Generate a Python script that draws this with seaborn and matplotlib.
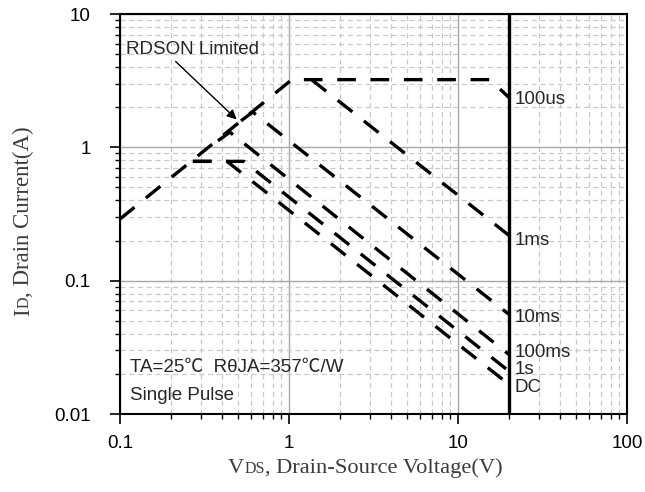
import numpy as np
import pandas as pd
import matplotlib
matplotlib.use('Agg')
import matplotlib.pyplot as plt
import seaborn as sns
from matplotlib.ticker import LogLocator, FuncFormatter, NullFormatter

# Safe operating area curves (corner points)
curve_names = ['100us', '1ms', '10ms', '100ms', '1s', 'DC']
vds_100us = [0.1, 1.04, 15.5, 20]
id_100us = [0.29, 3.22, 3.22, 2.37]
vds_1ms = [1.36, 20]
id_1ms = [3.22, 0.219]
vds_10ms = [0.52, 0.61, 20]
id_10ms = [1.58, 1.84, 0.056]
vds_100ms = [0.38, 0.447, 20]
id_100ms = [1.12, 1.30, 0.028]
vds_1s = [0.27, 0.54, 20]
id_1s = [0.785, 0.785, 0.021]
vds_dc = [0.27, 0.43, 20]
id_dc = [0.785, 0.785, 0.0167]
vds_max = 20

x_ticks = [0.1, 1, 10, 100]
y_ticks = [0.01, 0.1, 1, 10]

frames = []
for name, v, i in zip(curve_names,
                      [vds_100us, vds_1ms, vds_10ms, vds_100ms, vds_1s, vds_dc],
                      [id_100us, id_1ms, id_10ms, id_100ms, id_1s, id_dc]):
    frames.append(pd.DataFrame({'curve': name, 'VDS': v, 'ID': i}))
soa = pd.concat(frames, ignore_index=True)

sns.set_style('white')
plt.rcParams['font.family'] = ['Liberation Sans', 'DejaVu Sans']
fs = 13.5

fig = plt.figure(figsize=(6.45, 4.92), dpi=100)
ax = fig.add_axes([0.186, 0.1585, 0.786, 0.813])
ax.set_xscale('log')
ax.set_yscale('log')
ax.set_xlim(0.1, 100)
ax.set_ylim(0.01, 10)

# grid
ax.xaxis.set_minor_locator(LogLocator(base=10, subs=np.arange(2, 10)))
ax.yaxis.set_minor_locator(LogLocator(base=10, subs=np.arange(2, 10)))
ax.grid(which='major', color='#a8a8a8', lw=1.0, ls='-')
ax.grid(which='minor', color='#c8c8c8', lw=0.9, ls=(0, (4, 3)))
ax.set_axisbelow(True)

for name in curve_names:
    sub = soa[soa['curve'] == name]
    sns.lineplot(data=sub, x='VDS', y='ID', ax=ax, color='black', lw=2.4,
                 linestyle=(0, (5.6, 4.4)), sort=False, estimator=None,
                 legend=False)
ax.axvline(vds_max, color='black', lw=2.4)

ax.set_xticks(x_ticks)
ax.set_yticks(y_ticks)
fmt = FuncFormatter(lambda v, p: '{:g}'.format(v))
ax.xaxis.set_major_formatter(fmt)
ax.yaxis.set_major_formatter(fmt)
ax.xaxis.set_minor_formatter(NullFormatter())
ax.yaxis.set_minor_formatter(NullFormatter())
ax.tick_params(which='major', direction='out', length=7, width=1.2,
               labelsize=fs, color='black', labelcolor='black')
ax.tick_params(axis='y', which='major', pad=14)
ax.tick_params(axis='x', which='major', pad=8)
ax.tick_params(which='minor', direction='out', length=3.5, width=1.0, color='black')
ax.tick_params(bottom=True, left=True, which='both')
for s in ax.spines.values():
    s.set_color('black')
    s.set_linewidth(1.5)
ax.set_xlabel('')
ax.set_ylabel('')

# curve labels
label_pos = {'100us': 2.3, '1ms': 0.2, '10ms': 0.053, '100ms': 0.029,
             '1s': 0.0215, 'DC': 0.0158}
for name in curve_names:
    ax.text(21.6, label_pos[name], name, fontsize=fs, va='center', ha='left')

ax.annotate('RDSON Limited', xy=(0.49, 1.62), xytext=(0.108, 5.4),
            fontsize=fs, va='center', ha='left',
            arrowprops=dict(arrowstyle='-|>', color='black', lw=1.0,
                            mutation_scale=14, shrinkA=0, shrinkB=0,
                            relpos=(0.35, 0.0)))
ax.text(0.114, 0.0222, 'TA=25\u2103  R\u03b8JA=357\u2103/W', fontsize=fs,
        va='center', ha='left',
        family=['Liberation Sans', 'Noto Sans CJK SC', 'DejaVu Sans'])
ax.text(0.114, 0.0137, 'Single Pulse', fontsize=fs, va='center', ha='left')

# axis titles with small-size subscript letters on the baseline
lab_kw = dict(family='Liberation Serif', color='#3c3c3c')
t1 = fig.text(228 / 645, 1 - 473 / 492, 'V', fontsize=16.2, ha='left',
              va='baseline', **lab_kw)
t2 = ax.annotate('DS', xy=(1.0, 1 - 473 / 492), xycoords=(t1, 'figure fraction'),
                 fontsize=11.5, ha='left', va='baseline', annotation_clip=False,
                 **lab_kw)
ax.annotate(', Drain-Source Voltage(V)', xy=(1.0, 1 - 473 / 492),
            xycoords=(t2, 'figure fraction'), fontsize=16.2, ha='left',
            va='baseline', annotation_clip=False, **lab_kw)

yb = 29 / 645
r1 = fig.text(yb, 1 - 316 / 492, 'I', fontsize=16.5, ha='left', va='baseline',
              rotation=90, rotation_mode='anchor', **lab_kw)
r2 = ax.annotate('D', xy=(yb, 1.0), xycoords=('figure fraction', r1),
                 fontsize=11.5, ha='left', va='baseline', rotation=90,
                 rotation_mode='anchor', annotation_clip=False, **lab_kw)
ax.annotate(', Drain Current(A)', xy=(yb, 1.0), xycoords=('figure fraction', r2),
            fontsize=16.5, ha='left', va='baseline', rotation=90,
            rotation_mode='anchor', annotation_clip=False, **lab_kw)

fig.savefig('out.png', dpi=100)
